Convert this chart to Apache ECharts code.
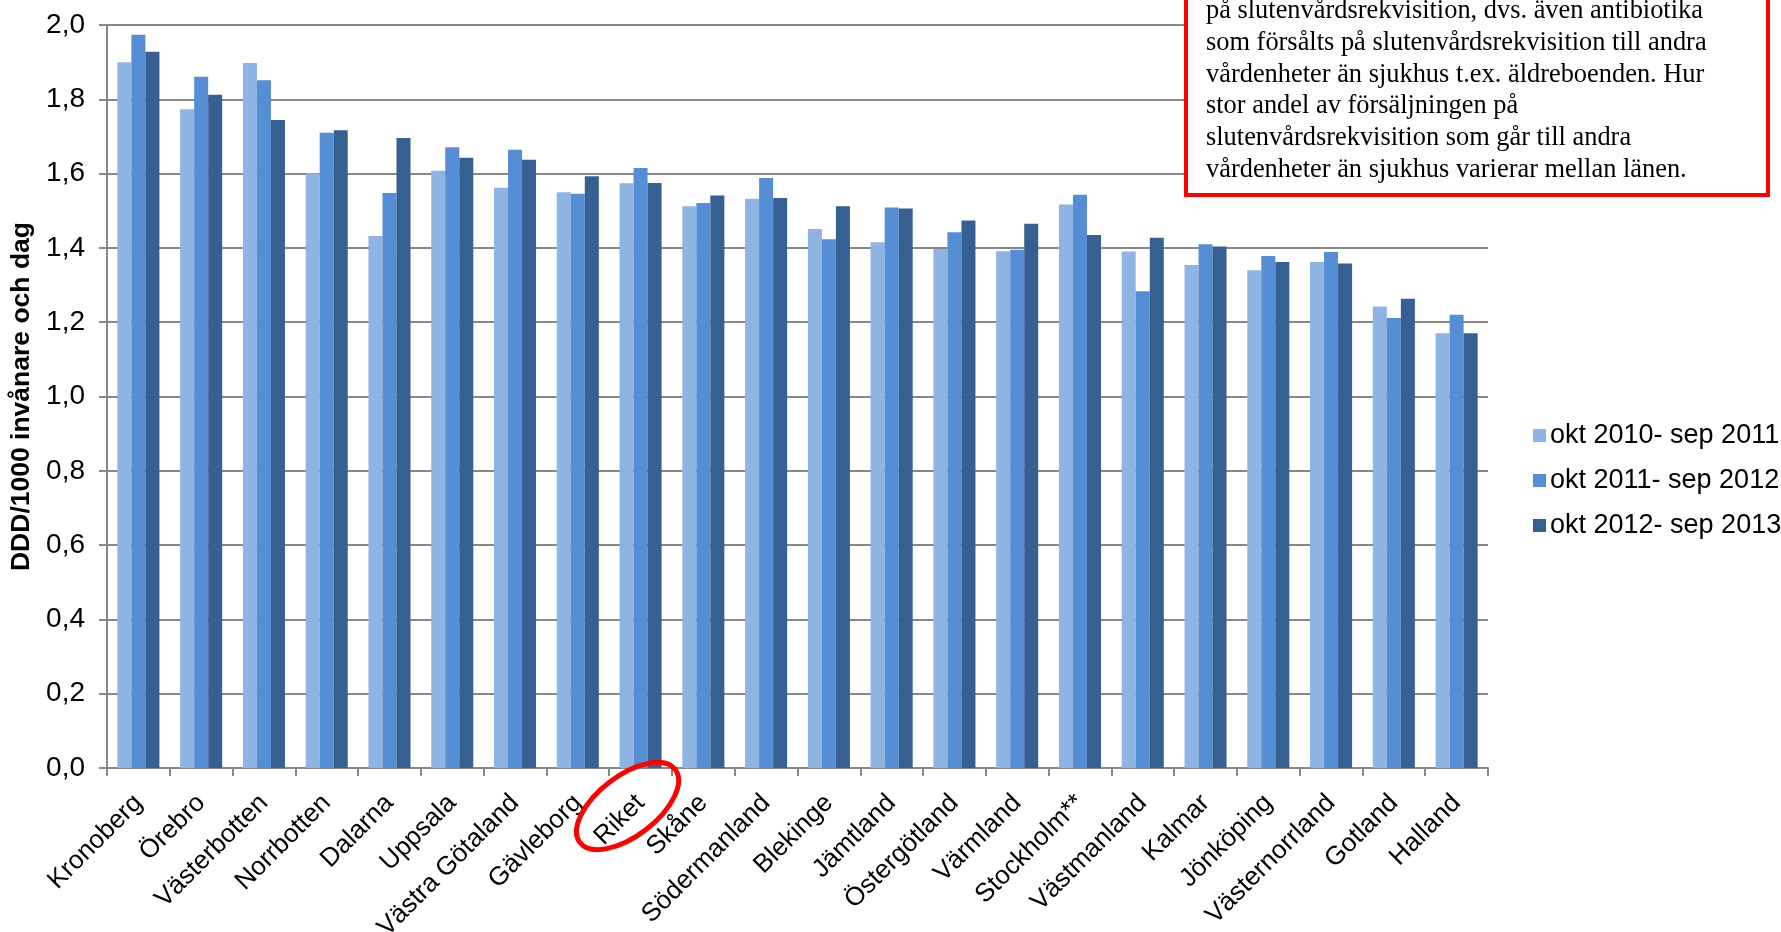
<!DOCTYPE html>
<html><head><meta charset="utf-8">
<script src="https://cdn.jsdelivr.net/npm/echarts@6/dist/echarts.min.js"></script>
<style>html,body{margin:0;padding:0;background:#fff}#c{width:1781px;height:932px}</style>
</head><body><div id="c"></div>
<script>
const categories = ['Kronoberg','Örebro','Västerbotten','Norrbotten','Dalarna','Uppsala','Västra Götaland','Gävleborg','Riket','Skåne','Södermanland','Blekinge','Jämtland','Östergötland','Värmland','Stockholm**','Västmanland','Kalmar','Jönköping','Västernorrland','Gotland','Halland'];
const seriesNames = ['okt 2010- sep 2011','okt 2011- sep 2012','okt 2012- sep 2013'];
const s2011 = [1.900,1.773,1.898,1.600,1.432,1.608,1.562,1.550,1.574,1.512,1.532,1.451,1.415,1.397,1.391,1.517,1.390,1.354,1.340,1.362,1.242,1.170];
const s2012 = [1.974,1.861,1.851,1.710,1.548,1.671,1.664,1.546,1.615,1.521,1.588,1.423,1.509,1.442,1.395,1.543,1.283,1.410,1.378,1.389,1.211,1.220];
const s2013 = [1.928,1.812,1.744,1.717,1.696,1.643,1.637,1.593,1.575,1.541,1.534,1.512,1.506,1.474,1.465,1.435,1.427,1.404,1.362,1.358,1.263,1.170];
const noteLines = ['på slutenvårdsrekvisition, dvs. även antibiotika','som försålts på slutenvårdsrekvisition till andra','vårdenheter än sjukhus t.ex. äldreboenden. Hur','stor andel av försäljningen på','slutenvårdsrekvisition som går till andra','vårdenheter än sjukhus varierar mellan länen.'];
const yTitle = 'DDD/1000 invånare och dag';
const colors = ['#8DB4E2','#558ED5','#376092'];

const chart = echarts.init(document.getElementById('c'));
const F = 'Liberation Sans, Arial, sans-serif';
const mk = (name, data, i) => ({name, type:'bar', data, barGap:'0%', barCategoryGap:'33%', itemStyle:{color:colors[i]}, animation:false});
chart.setOption({
  animation:false,
  grid:{left:107,right:293,top:25,bottom:164,containLabel:false,outerBoundsMode:'none'},
  legend:{orient:'vertical',left:1528,top:417,itemWidth:13,itemHeight:13,itemGap:18,icon:'rect',
    textStyle:{fontFamily:F,fontSize:27,color:'#000',padding:[0,0,0,-1]},data:seriesNames},
  xAxis:{type:'category',data:categories,
    axisLine:{lineStyle:{color:'#888',width:2}},
    axisTick:{show:true,length:8,lineStyle:{color:'#888',width:2}},
    axisLabel:{rotate:45,interval:0,fontFamily:F,fontSize:26,color:'#000',margin:31}},
  yAxis:{type:'value',min:0,max:2,interval:0.2,
    name:yTitle,nameLocation:'middle',nameGap:54,nameRotate:90,
    nameTextStyle:{fontFamily:F,fontSize:26.5,fontWeight:'bold',color:'#000'},
    axisLine:{show:true,lineStyle:{color:'#888',width:2}},
    axisTick:{show:true,length:8,lineStyle:{color:'#888',width:2}},
    splitLine:{lineStyle:{color:'#888',width:2}},
    axisLabel:{fontFamily:F,fontSize:28,color:'#000',margin:22,formatter:v=>v.toFixed(1).replace('.',',')}},
  series:[mk(seriesNames[0],s2011,0),mk(seriesNames[1],s2012,1),mk(seriesNames[2],s2013,2)]
});
const rp = chart.convertToPixel({xAxisIndex:0},'Riket');
const children = [
  {type:'rect',shape:{x:1186,y:-10,width:582,height:205},style:{fill:'#fff',stroke:'#ff0000',lineWidth:4},z:10},
  {type:'ellipse',shape:{cx:0,cy:0,rx:60,ry:30},x:rp-13,y:806,rotation:0.654,style:{fill:null,stroke:'#ff0000',lineWidth:5},z:10}
];
noteLines.forEach((t,i)=>children.push({type:'text',x:1206,y:11+i*31.8,z:11,
  style:{text:t,fontFamily:'Liberation Serif, Times New Roman, serif',fontSize:26.4,fill:'#000',verticalAlign:'middle'}}));
chart.setOption({graphic:children});
</script></body></html>
